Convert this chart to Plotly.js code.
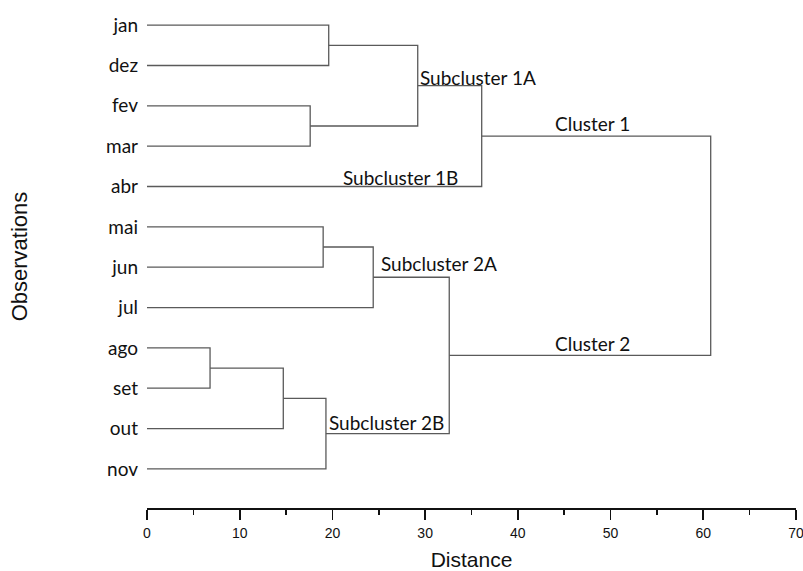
<!DOCTYPE html>
<html>
<head>
<meta charset="utf-8">
<script src="https://cdn.plot.ly/plotly-3.0.1.min.js"></script>
<style>html,body{margin:0;padding:0;background:#fff;}#chart{width:803px;height:571px;}</style>
</head>
<body>
<div id="chart"></div>
<script>
// Leaves (top to bottom)
var leaves = ["jan","dez","fev","mar","abr","mai","jun","jul","ago","set","out","nov"];
// Merges: child A, child B (leaf index or 12+ for merged node), merge distance
var mergeA    = [0, 2, 12, 14, 5, 16, 8, 18, 19, 17, 15];
var mergeB    = [1, 3, 13, 4, 6, 7, 9, 10, 11, 20, 21];
var mergeDist = [19.6, 17.6, 29.2, 36.1, 19.0, 24.4, 6.8, 14.7, 19.3, 32.6, 60.8];
var xTicks = [0, 10, 20, 30, 40, 50, 60, 70];

var nodeY = leaves.map(function(_, i){ return i; });
var nodeD = leaves.map(function(){ return 0; });
var xs = [], ys = [];
for (var k = 0; k < mergeA.length; k++) {
  var a = mergeA[k], b = mergeB[k], d = mergeDist[k];
  xs.push(nodeD[a], d, d, nodeD[b], null);
  ys.push(nodeY[a], nodeY[a], nodeY[b], nodeY[b], null);
  nodeY.push((nodeY[a] + nodeY[b]) / 2);
  nodeD.push(d);
}

var lblFont = {family: "Lato, 'Noto Sans', sans-serif", size: 19, color: "#111"};
var trace = {
  x: xs, y: ys, type: "scatter", mode: "lines",
  line: {color: "#5a5a5a", width: 1.3},
  hoverinfo: "skip", showlegend: false
};

var layout = {
  width: 803, height: 571,
  margin: {l: 147, r: 7, t: 5, b: 63},
  paper_bgcolor: "#fff", plot_bgcolor: "#fff",
  showlegend: false,
  xaxis: {
    range: [0, 70], tickvals: xTicks, ticktext: xTicks.map(String),
    showgrid: false, zeroline: false,
    showline: true, linecolor: "#111", linewidth: 1.6,
    ticks: "outside", ticklen: 10, tickwidth: 1.6, tickcolor: "#111",
    minor: {dtick: 5, tick0: 0, ticks: "outside", ticklen: 5, tickwidth: 1.6, tickcolor: "#111", showgrid: false},
    tickfont: {family: "Arial, 'Liberation Sans', sans-serif", size: 14, color: "#111"},
    ticklabelstandoff: 2,
    ticklabeloverflow: "allow",
    title: {text: "Distance", font: {family: "Arial, 'Liberation Sans', sans-serif", size: 21, color: "#111"}, standoff: 14},
    automargin: false, fixedrange: true
  },
  yaxis: {
    range: [11.97, -0.5],
    tickvals: leaves.map(function(_, i){ return i; }), ticktext: leaves,
    showgrid: false, zeroline: false, showline: false, ticks: "",
    ticklabelstandoff: 8,
    tickfont: lblFont,
    title: {text: "Observations", font: {family: "Arial, 'Liberation Sans', sans-serif", size: 22, color: "#111"}, standoff: 72},
    automargin: false, fixedrange: true
  },
  annotations: [
    {text: "Subcluster 1A", x: 29.2, y: 1.29, xanchor: "left", yanchor: "middle", showarrow: false, font: lblFont},
    {text: "Subcluster 1B", x: 33.8, y: 3.77, xanchor: "right", yanchor: "middle", showarrow: false, font: lblFont},
    {text: "Cluster 1", x: 43.8, y: 2.45, xanchor: "left", yanchor: "middle", showarrow: false, font: lblFont},
    {text: "Subcluster 2A", x: 38.0, y: 5.9, xanchor: "right", yanchor: "middle", showarrow: false, font: lblFont},
    {text: "Cluster 2", x: 43.8, y: 7.88, xanchor: "left", yanchor: "middle", showarrow: false, font: lblFont},
    {text: "Subcluster 2B", x: 19.45, y: 9.84, xanchor: "left", yanchor: "middle", showarrow: false, font: lblFont}
  ]
};

Plotly.newPlot("chart", [trace], layout, {staticPlot: true, displayModeBar: false});
</script>
</body>
</html>
